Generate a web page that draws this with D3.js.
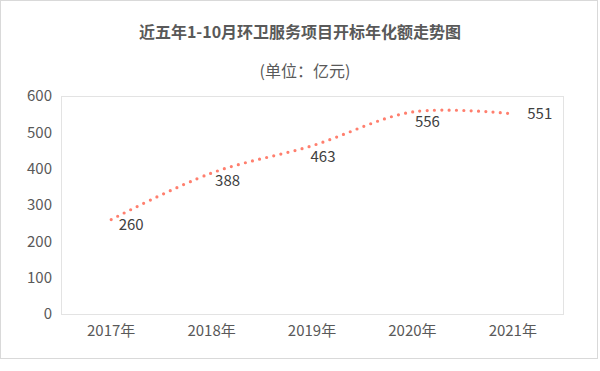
<!DOCTYPE html>
<html>
<head>
<meta charset="utf-8">
<script src="https://cdn.jsdelivr.net/npm/d3@7"></script>
<style>
  body { margin: 0; background: #fff; }
  text { font-family: "Noto Sans CJK SC", "Noto Sans", sans-serif; }
</style>
</head>
<body>
<div id="chart"></div>
<script>
const years = ['2017年', '2018年', '2019年', '2020年', '2021年']
const amounts = [260, 388, 463, 556, 551]
const yTicks = [0, 100, 200, 300, 400, 500, 600]
const titleText = '近五年1-10月环卫服务项目开标年化额走势图'
const unitText = '(单位：亿元)'

// label nudges (layout only), in px from the point
const labelNudge = [[20, 5], [16, 8], [11, 11], [15, 10], [27, 0]]

const params = {
  width: 600,
  height: 371,
  marginTop: 96,
  marginBottom: 57,
  marginLeft: 61,
  marginRight: 37,
}

const svg = d3.select('#chart')
  .append('svg')
  .attr('width', params.width)
  .attr('height', params.height)

// outer frame
svg.append('rect')
  .attr('x', 0.5).attr('y', 0.5)
  .attr('width', 597).attr('height', 358)
  .attr('fill', '#fff')
  .attr('stroke', '#d9d9d9')

svg.append('text')
  .attr('x', 300).attr('y', 38)
  .attr('text-anchor', 'middle')
  .attr('font-size', 16)
  .attr('font-weight', 'bold')
  .attr('fill', '#595959')
  .text(titleText)

svg.append('text')
  .attr('x', 305).attr('y', 77)
  .attr('text-anchor', 'middle')
  .attr('font-size', 16)
  .attr('fill', '#595959')
  .text(unitText)

const x = d3.scaleBand()
  .domain(years)
  .range([params.marginLeft, params.width - params.marginRight])

const y = d3.scaleLinear()
  .domain([0, 600])
  .range([params.height - params.marginBottom, params.marginTop])

// plot area border
svg.append('rect')
  .attr('x', params.marginLeft + 0.5)
  .attr('y', params.marginTop + 0.5)
  .attr('width', params.width - params.marginLeft - params.marginRight)
  .attr('height', params.height - params.marginTop - params.marginBottom)
  .attr('fill', 'none')
  .attr('stroke', '#e3e3e3')

const yAxis = svg.append('g')
  .attr('transform', `translate(${params.marginLeft},0)`)
  .call(d3.axisLeft(y).tickValues(yTicks).tickSize(0).tickPadding(9))
yAxis.select('.domain').remove()
yAxis.selectAll('text')
  .attr('font-size', 15)
  .attr('fill', '#595959')
  .style('font-family', '"Noto Sans CJK SC", sans-serif')

const xAxis = svg.append('g')
  .attr('transform', `translate(0,${params.height - params.marginBottom})`)
  .call(d3.axisBottom(x).tickSize(0).tickPadding(11))
xAxis.select('.domain').remove()
xAxis.selectAll('text')
  .attr('font-size', 15)
  .attr('fill', '#595959')
  .style('font-family', '"Noto Sans CJK SC", sans-serif')

const cx = (d, i) => x(years[i]) + x.bandwidth() / 2

const line = d3.line()
  .x(cx)
  .y(d => y(d))
  .curve(d3.curveCatmullRom.alpha(0.5))

svg.append('path')
  .datum(amounts)
  .attr('d', line)
  .attr('fill', 'none')
  .attr('stroke', '#ff7f6e')
  .attr('stroke-width', 3.2)
  .attr('stroke-linecap', 'round')
  .attr('stroke-dasharray', '0 7.3')

svg.selectAll('.lbl')
  .data(amounts)
  .enter()
  .append('text')
  .attr('class', 'lbl')
  .attr('x', (d, i) => cx(d, i) + labelNudge[i][0])
  .attr('y', (d, i) => y(d) + labelNudge[i][1])
  .attr('dy', '0.35em')
  .attr('text-anchor', 'middle')
  .attr('font-size', 15)
  .attr('fill', '#404040')
  .text(d => d)
</script>
</body>
</html>
